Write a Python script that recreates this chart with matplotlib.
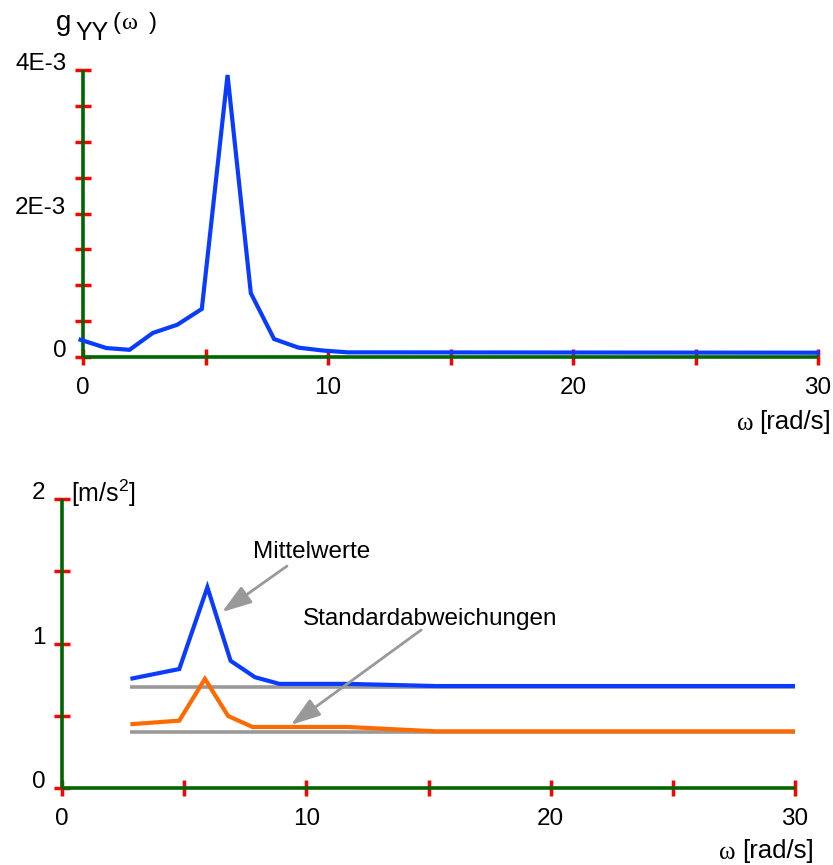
import matplotlib
matplotlib.use('Agg')
import matplotlib.pyplot as plt

plt.rcParams['font.family'] = ['Liberation Sans', 'DejaVu Sans']
plt.rcParams['mathtext.fontset'] = 'custom'
plt.rcParams['mathtext.rm'] = 'Liberation Sans'

W, H = 833, 865

# spectral density g_YY(omega)
omega_g = [-0.1, 0.95, 1.9, 2.85, 3.85, 4.85, 5.9, 6.85, 7.8, 8.8, 9.8, 10.8, 30]
g_yy = [0.24e-3, 0.125e-3, 0.1e-3, 0.335e-3, 0.45e-3, 0.67e-3, 3.93e-3,
        0.89e-3, 0.25e-3, 0.13e-3, 0.09e-3, 0.065e-3, 0.06e-3]

# mean values and standard deviations [m/s^2]
omega_m = [2.8, 4.8, 5.95, 6.9, 7.9, 8.9, 11.7, 15.3, 30]
mittel = [0.755, 0.823, 1.39, 0.88, 0.766, 0.72, 0.72, 0.705, 0.705]
omega_s = [2.8, 4.8, 5.85, 6.8, 7.8, 11.7, 15.3, 30]
std_abw = [0.44, 0.465, 0.755, 0.497, 0.421, 0.421, 0.391, 0.391]
omega_ref = [2.8, 30]
mittel_ref = [0.695, 0.695]
std_ref = [0.385, 0.385]

x_ticks = [0, 5, 10, 15, 20, 25, 30]
x_labels = ['0', '', '10', '', '20', '', '30']
g_ticks = [0, 0.5e-3, 1e-3, 1.5e-3, 2e-3, 2.5e-3, 3e-3, 3.5e-3, 4e-3]
g_labels = ['0', '', '', '', '2E-3', '', '', '', '4E-3']
a_ticks = [0, 0.5, 1, 1.5, 2]
a_labels = ['0', '', '1', '', '2']

BLUE = '#0a3cff'
ORANGE = '#ff6a00'
GRAY = '#999999'
GREEN = '#006600'
FS = 17.5


def px(x, y):
    return x / W, 1 - y / H


def style(ax, xt, xl, yt, yl):
    for s in ['top', 'right']:
        ax.spines[s].set_visible(False)
    for s in ['left', 'bottom']:
        ax.spines[s].set_color(GREEN)
        ax.spines[s].set_linewidth(2.6)
        ax.spines[s].set_capstyle('butt')
    ax.set_xticks(xt, xl)
    ax.set_yticks(yt, yl)
    ax.tick_params(axis='both', direction='inout', color='red', width=2.5,
                   labelsize=FS)
    ax.tick_params(axis='x', length=11, pad=9)
    ax.tick_params(axis='y', length=12, pad=6)
    for lab in ax.get_yticklabels():
        lab.set_verticalalignment('baseline')


fig = plt.figure(figsize=(W / 100, H / 100), dpi=100)

# top: spectral density
ax1 = fig.add_axes([83 / W, 1 - 357 / H, 735 / W, 287 / H])
ax1.plot(omega_g, g_yy, color=BLUE, lw=3, solid_joinstyle='miter', clip_on=False, zorder=3)
ax1.set_xlim(0, 30)
ax1.set_ylim(0, 4e-3)
style(ax1, x_ticks, x_labels, g_ticks, g_labels)

fig.text(*px(56, 30), 'g', fontsize=20, ha='left', va='baseline')
fig.text(*px(75, 40), 'YY', fontsize=18, ha='left', va='baseline')
fig.text(*px(112, 29), '(', fontsize=17, ha='left', va='baseline')
fig.text(*px(122, 29), 'ω', fontsize=17.5, family='Liberation Serif', ha='left', va='baseline')
fig.text(*px(149, 29), ')', fontsize=17, ha='left', va='baseline')

fig.text(*px(754, 430), 'ω', fontsize=18, family='Liberation Serif', ha='right', va='baseline')
fig.text(*px(831, 429), '[rad/s]', fontsize=18.5, ha='right', va='baseline')

# bottom: mean values and standard deviations
ax2 = fig.add_axes([62 / W, 1 - 787.7 / H, 733 / W, 288.4 / H])
ax2.plot(omega_ref, mittel_ref, color=GRAY, lw=2.6, solid_capstyle='butt')
ax2.plot(omega_ref, std_ref, color=GRAY, lw=2.6, solid_capstyle='butt')
ax2.plot(omega_m, mittel, color=BLUE, lw=3, solid_joinstyle='miter', solid_capstyle='butt')
ax2.plot(omega_s, std_abw, color=ORANGE, lw=3, solid_joinstyle='miter', solid_capstyle='butt')
ax2.set_xlim(0, 30)
ax2.set_ylim(0, 2)
style(ax2, x_ticks, x_labels, a_ticks, a_labels)

fig.text(*px(71, 502), r'[m/s$^{\mathregular{2}}$]', fontsize=18, ha='left', va='baseline')

arrow = dict(arrowstyle='-|>,head_length=0.9,head_width=0.3', color=GRAY, lw=2,
             mutation_scale=20, shrinkA=0, shrinkB=0)
ax2.text(7.82, 1.593, 'Mittelwerte', fontsize=FS, ha='left', va='baseline')
ax2.annotate('', xy=(6.55, 1.218), xytext=(9.21, 1.537), arrowprops=arrow)
ax2.text(9.87, 1.128, 'Standardabweichungen', fontsize=FS, ha='left', va='baseline')
ax2.annotate('', xy=(9.37, 0.435), xytext=(14.7, 1.094), arrowprops=arrow)

fig.text(*px(736, 859), 'ω', fontsize=18, family='Liberation Serif', ha='right', va='baseline')
fig.text(*px(814, 858), '[rad/s]', fontsize=18.5, ha='right', va='baseline')

fig.savefig('out.png', dpi=100)
